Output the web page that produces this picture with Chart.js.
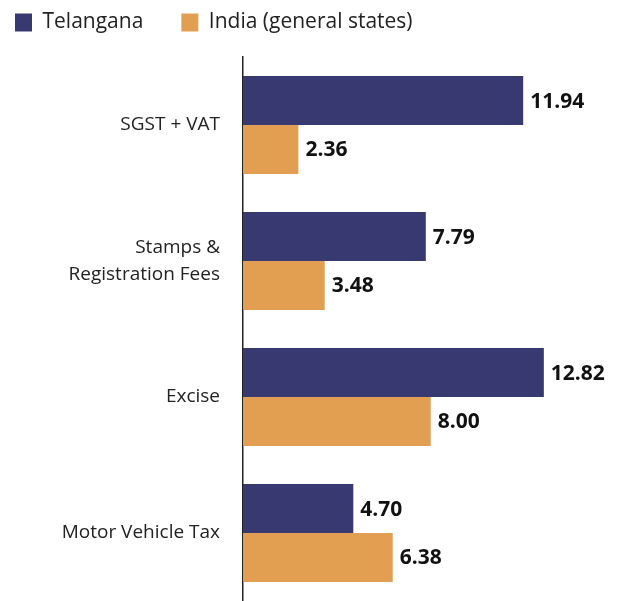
<!DOCTYPE html>
<html>
<head>
<meta charset="utf-8">
<script src="https://cdn.jsdelivr.net/npm/chart.js@4/dist/chart.umd.min.js"></script>
<style>
  html, body { margin: 0; padding: 0; background: #fff; }
  #wrap { width: 622px; height: 601px; }
</style>
</head>
<body>
<div id="wrap"><canvas id="myChart" width="622" height="601"></canvas></div>
<script>
const categories = ['SGST + VAT', ['Stamps &', 'Registration Fees'], 'Excise', 'Motor Vehicle Tax'];
const telangana = [11.94, 7.79, 12.82, 4.70];
const indiaGeneral = [2.36, 3.48, 8.00, 6.38];
const seriesNames = ['Telangana', 'India (general states)'];

const FONT = '"Open Sans", sans-serif';

// draw the value at the end of each bar
const valueLabels = {
  id: 'valueLabels',
  afterLayout(chart) {
    // pull the legend up closer to the top edge
    chart.legend.top -= 14;
    chart.legend.bottom -= 14;
  },
  afterDatasetsDraw(chart) {
    const ctx = chart.ctx;
    ctx.save();
    ctx.font = 'bold 21px ' + FONT;
    ctx.fillStyle = '#111';
    ctx.textBaseline = 'middle';
    ctx.textAlign = 'left';
    chart.data.datasets.forEach((ds, i) => {
      chart.getDatasetMeta(i).data.forEach((bar, j) => {
        ctx.fillText(ds.data[j].toFixed(2), bar.x + 7, bar.y + 1);
      });
    });
    ctx.restore();
  }
};

const ctx = document.getElementById('myChart').getContext('2d');
new Chart(ctx, {
  type: 'bar',
  data: {
    labels: categories,
    datasets: [{
      label: seriesNames[0],
      data: telangana,
      backgroundColor: '#393972',
      categoryPercentage: 0.72,
      barPercentage: 1.0
    }, {
      label: seriesNames[1],
      data: indiaGeneral,
      backgroundColor: '#E29F52',
      categoryPercentage: 0.72,
      barPercentage: 1.0
    }]
  },
  options: {
    indexAxis: 'y',
    responsive: false,
    animation: false,
    layout: { padding: { left: -23, right: 27, top: -25, bottom: -3 } },
    plugins: {
      legend: {
        align: 'start',
        labels: {
          boxWidth: 17,
          boxHeight: 18,
          padding: 38,
          color: '#222',
          font: { family: FONT, size: 21 }
        }
      },
      tooltip: { enabled: false }
    },
    scales: {
      x: {
        display: false,
        min: 0,
        max: 15
      },
      y: {
        grid: { display: true, drawOnChartArea: false, drawTicks: true, tickLength: 23, color: 'rgba(0,0,0,0)' },
        border: { display: true, color: '#222', width: 1.5 },
        ticks: {
          color: '#222',
          padding: 0,
          font: { family: FONT, size: 19, lineHeight: 1.4 }
        },
        afterFit(scale) {
          scale.width = 266;
          scale.paddingTop = 57;
          scale.paddingBottom = -3;
        }
      }
    }
  },
  plugins: [valueLabels]
});
</script>
</body>
</html>
